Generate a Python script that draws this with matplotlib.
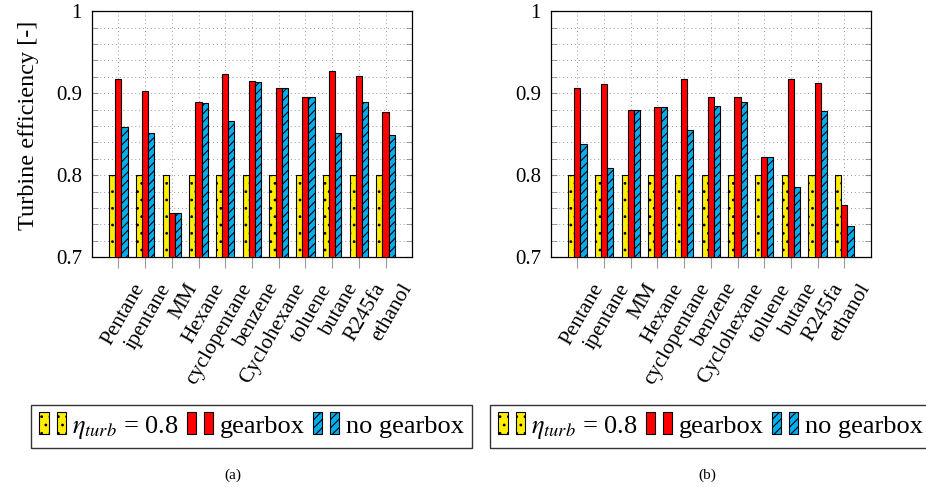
import matplotlib.pyplot as plt
import numpy as np
import matplotlib.transforms as mtransforms
from matplotlib.patches import Rectangle
from matplotlib.legend_handler import HandlerTuple

plt.rcParams['font.family'] = ['Liberation Serif', 'DejaVu Serif']
plt.rcParams['mathtext.fontset'] = 'stix'
plt.rcParams['hatch.linewidth'] = 0.8

fluids = ['Pentane', 'ipentane', 'MM', 'Hexane', 'cyclopentane', 'benzene',
          'Cyclohexane', 'toluene', 'butane', 'R245fa', 'ethanol']
eta_ref = [0.8] * 11

# panel (a)
gear_a = [0.917, 0.903, 0.754, 0.889, 0.923, 0.915, 0.906, 0.895, 0.927, 0.921, 0.877]
nogear_a = [0.859, 0.852, 0.754, 0.888, 0.866, 0.914, 0.906, 0.895, 0.852, 0.889, 0.849]

# panel (b)
gear_b = [0.907, 0.911, 0.880, 0.883, 0.918, 0.896, 0.896, 0.822, 0.917, 0.912, 0.764]
nogear_b = [0.838, 0.809, 0.880, 0.883, 0.855, 0.884, 0.889, 0.822, 0.786, 0.878, 0.738]

yellow = '#FFEE00'
red = '#FF0000'
blue = '#00AEEF'

fig = plt.figure(figsize=(9.26, 4.87), dpi=100)
ax_a = fig.add_axes([0.099, 0.4717, 0.3462, 0.5051])
ax_b = fig.add_axes([0.5947, 0.4717, 0.3459, 0.5051])

x = np.arange(1, len(fluids) + 1)
w = 0.23
# rotated fluid names sit right of and below their tick
shift = mtransforms.ScaledTranslation(0.22, -0.28, fig.dpi_scale_trans)


def draw_panel(ax, gear, nogear):
    ax.bar(x - w, eta_ref, w, color=yellow, edgecolor='black', hatch='..', linewidth=0.8, zorder=3)
    ax.bar(x, gear, w, color=red, edgecolor='black', linewidth=0.8, zorder=3)
    ax.bar(x + w, nogear, w, color=blue, edgecolor='black', hatch='////', linewidth=0.8, zorder=3)
    ax.set_xlim(0, 12)
    ax.set_ylim(0.7, 1.0)
    ax.set_xticks(x)
    ax.set_xticklabels([])
    for xi, name in zip(x, fluids):
        ax.text(xi, 0, name, transform=ax.get_xaxis_transform() + shift,
                rotation=60, ha='right', va='center', rotation_mode='anchor', fontsize=15.5)
    ax.set_yticks([0.7, 0.8, 0.9, 1.0])
    ax.set_yticklabels(['0.7', '0.8', '0.9', '1'], fontsize=15)
    ax.set_yticks(np.arange(0.72, 1.0, 0.02), minor=True)
    ax.tick_params(axis='y', which='both', direction='in', right=True, color='#888888',
                   length=4, pad=7)
    ax.tick_params(axis='x', which='major', direction='out', color='#999999', length=8)
    ax.grid(True, which='both', linestyle=(0, (1, 3)), color='#999999', linewidth=0.7, zorder=0)
    for s in ax.spines.values():
        s.set_linewidth(0.9)


draw_panel(ax_a, gear_a, nogear_a)
draw_panel(ax_b, gear_b, nogear_b)
ax_a.set_ylabel('Turbine efficiency [-]', fontsize=17.5)
ax_a.yaxis.set_label_coords(-0.164, 0.538)


def pair(color, hatch):
    a = Rectangle((0, 0), 1, 1, facecolor=color, edgecolor='black', hatch=hatch, linewidth=0.8)
    b = Rectangle((0, 0), 1, 1, facecolor=color, edgecolor='black', hatch=hatch, linewidth=0.8)
    return (a, b)


handles = [pair(yellow, '..'), pair(red, None), pair(blue, '////')]
labels = [r'$\eta_{turb}$ = 0.8', 'gearbox', 'no gearbox']

for cx in [0.2716, 0.7673]:
    fig.legend(handles, labels, loc='center', bbox_to_anchor=(cx, 0.1242), ncol=3,
               handler_map={tuple: HandlerTuple(ndivide=None, pad=0.3)},
               handlelength=1.0, handleheight=0.9, handletextpad=0.25, columnspacing=0.3,
               fontsize=19, frameon=True, fancybox=False, edgecolor='black',
               borderpad=0.3, borderaxespad=0)

fig.text(233 / 926, 1 - 475 / 487, '(a)', ha='center', va='center', fontsize=11)
fig.text(707 / 926, 1 - 475 / 487, '(b)', ha='center', va='center', fontsize=11)

fig.savefig('out.png', dpi=100)
